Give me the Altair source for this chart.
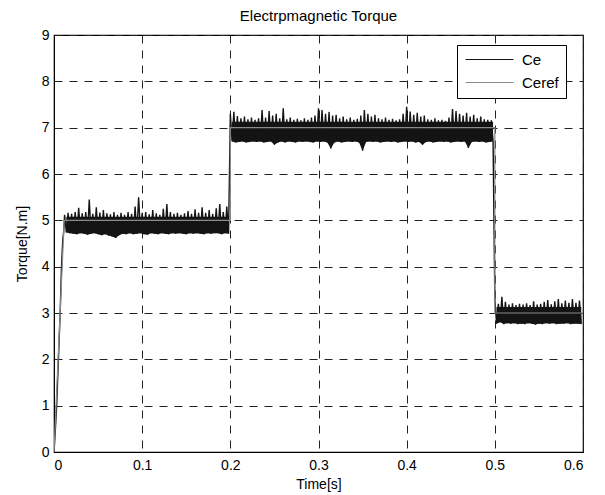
import altair as alt
import pandas as pd

# ---- data ----
RAMP_T = [0.0, 0.001, 0.003, 0.005, 0.007, 0.0085, 0.010, 0.011]
RAMP_V = [0.0, 0.3, 1.0, 2.0, 3.0, 4.0, 4.6, 4.75]

STEP = 0.002  # spacing between successive peak/trough samples

SEG1_START = 0.012
SEG1_UP = [5.12, 5.16, 5.14, 5.18, 5.27, 5.15, 5.18, 5.45, 5.14, 5.28,
           5.17, 5.22, 5.15, 5.13, 5.18, 5.12, 5.16, 5.12, 5.18, 5.14,
           5.30, 5.50, 5.16, 5.18, 5.13, 5.22, 5.15, 5.12, 5.25, 5.35,
           5.18, 5.14, 5.16, 5.12, 5.15, 5.20, 5.14, 5.24, 5.16, 5.28,
           5.16, 5.22, 5.14, 5.26, 5.35, 5.18, 5.30]
SEG1_LO = [4.74, 4.72, 4.71, 4.70, 4.72, 4.71, 4.69, 4.71, 4.72, 4.70,
           4.68, 4.70, 4.67, 4.65, 4.62, 4.68, 4.71, 4.70, 4.72, 4.70,
           4.71, 4.72, 4.70, 4.69, 4.72, 4.71, 4.70, 4.72, 4.71, 4.70,
           4.72, 4.71, 4.72, 4.71, 4.70, 4.72, 4.71, 4.72, 4.71, 4.70,
           4.72, 4.71, 4.72, 4.72, 4.70, 4.72, 4.71]

SEG2_START = 0.200
SEG2_UP = [7.30, 7.34, 7.25, 7.20, 7.24, 7.18, 7.22, 7.17, 7.20, 7.38,
           7.22, 7.36, 7.26, 7.30, 7.20, 7.42, 7.18, 7.22, 7.17, 7.19,
           7.16, 7.20, 7.17, 7.22, 7.26, 7.42, 7.38, 7.30, 7.34, 7.26,
           7.28, 7.20, 7.24, 7.18, 7.22, 7.17, 7.19, 7.26, 7.38, 7.30,
           7.24, 7.28, 7.20, 7.18, 7.22, 7.17, 7.19, 7.16, 7.18, 7.30,
           7.45, 7.35, 7.28, 7.32, 7.24, 7.26, 7.18, 7.17, 7.20, 7.16,
           7.17, 7.15, 7.22, 7.40, 7.36, 7.30, 7.26, 7.32, 7.24, 7.28,
           7.20, 7.24, 7.18, 7.17, 7.16]
SEG2_LO = [6.70, 6.68, 6.69, 6.70, 6.68, 6.69, 6.70, 6.69, 6.70, 6.68,
           6.69, 6.70, 6.63, 6.68, 6.70, 6.68, 6.70, 6.69, 6.68, 6.70,
           6.69, 6.70, 6.69, 6.68, 6.70, 6.69, 6.70, 6.68, 6.55, 6.68,
           6.70, 6.68, 6.69, 6.70, 6.69, 6.70, 6.68, 6.50, 6.69, 6.70,
           6.69, 6.70, 6.68, 6.69, 6.70, 6.69, 6.70, 6.68, 6.69, 6.70,
           6.69, 6.70, 6.68, 6.69, 6.63, 6.69, 6.70, 6.68, 6.69, 6.70,
           6.69, 6.70, 6.68, 6.69, 6.70, 6.69, 6.70, 6.56, 6.69, 6.70,
           6.69, 6.70, 6.68, 6.69, 6.70]

SEG3_START = 0.500
SEG3_UP = [3.30, 3.20, 3.35, 3.24, 3.18, 3.21, 3.17, 3.20, 3.18, 3.21,
           3.17, 3.25, 3.18, 3.20, 3.24, 3.28, 3.19, 3.25, 3.30, 3.21,
           3.27, 3.22, 3.30, 3.22, 3.27]
SEG3_LO = [2.77, 2.80, 2.76, 2.78, 2.77, 2.78, 2.76, 2.77, 2.76, 2.78,
           2.77, 2.75, 2.77, 2.76, 2.78, 2.77, 2.78, 2.76, 2.77, 2.77,
           2.78, 2.76, 2.77, 2.77, 2.76]

# top of the solid (dense) part of the ripple band in each segment
BAND_TOP = [5.08, 7.13, 3.13]

CEREF_T = [0.0, 0.011, 0.0115, 0.2, 0.2, 0.5, 0.5, 0.6]
CEREF_V = [0.0, 4.75, 5.0, 5.0, 7.0, 7.0, 3.0, 3.0]

X_TICKS = [0, 0.1, 0.2, 0.3, 0.4, 0.5, 0.6]
Y_TICKS = [0, 1, 2, 3, 4, 5, 6, 7, 8, 9]

# ---- build tables ----
ce_t = list(RAMP_T)
ce_v = list(RAMP_V)
band_t, band_lo, band_up, band_seg = [], [], [], []
for s, (start, up, lo) in enumerate([(SEG1_START, SEG1_UP, SEG1_LO),
                                     (SEG2_START, SEG2_UP, SEG2_LO),
                                     (SEG3_START, SEG3_UP, SEG3_LO)]):
    for i, (u, l) in enumerate(zip(up, lo)):
        t_u = round(start + (2 * i) * STEP, 6)
        t_l = round(start + (2 * i + 1) * STEP, 6)
        ce_t += [t_u, t_l]
        ce_v += [u, l]
        band_t.append(t_l)
        band_lo.append(l)
        band_up.append(BAND_TOP[s])
        band_seg.append(s)

ce = pd.DataFrame({"t": ce_t, "v": ce_v, "series": "Ce", "o": range(len(ce_t))})
ceref = pd.DataFrame({"t": CEREF_T, "v": CEREF_V, "series": "Ceref",
                      "o": range(len(CEREF_T))})
band = pd.DataFrame({"t": band_t, "lo": band_lo, "up": band_up, "seg": band_seg})

FONT = "Liberation Sans"
CE_COLOR = "#141414"

color = alt.Color(
    "series:N",
    scale=alt.Scale(domain=["Ce", "Ceref"], range=[CE_COLOR, "#8a8a8a"]),
    legend=alt.Legend(
        title=None,
        orient="none",
        legendX=403,
        legendY=10,
        symbolType="M-1,0H7",
        symbolSize=144,
        symbolStrokeWidth=1.2,
        labelFont=FONT,
        labelFontSize=15,
        labelColor="black",
        labelOffset=43,
        padding=7,
        rowPadding=7,
        strokeColor="black",
        fillColor="white",
        cornerRadius=0,
    ),
)

x = alt.X(
    "t:Q",
    scale=alt.Scale(domain=[0, 0.6], nice=False, zero=False),
    axis=alt.Axis(
        title="Time[s]",
        values=X_TICKS,
        format="~g",
        grid=True,
        gridDash=[8, 7],
        gridColor="#222222",
        gridWidth=1,
        domainColor="black",
        ticks=False,
        labelPadding=6,
        labelFont=FONT,
        labelFontSize=14,
        labelColor="black",
        titleFont=FONT,
        titleFontSize=14,
        titleFontWeight="normal",
        titleColor="black",
        titlePadding=5,
    ),
)
y_axis = alt.Axis(
    title="Torque[N.m]",
    values=Y_TICKS,
    grid=True,
    gridDash=[8, 7],
    gridColor="#222222",
    gridWidth=1,
    domainColor="black",
    ticks=False,
    labelPadding=5,
    labelFont=FONT,
    labelFontSize=14,
    labelColor="black",
    titleFont=FONT,
    titleFontSize=14,
    titleFontWeight="normal",
    titleColor="black",
    titlePadding=12,
)
y_scale = alt.Scale(domain=[0, 9], nice=False)
y = alt.Y("v:Q", scale=y_scale, axis=y_axis)

band_area = alt.Chart(band).mark_area(color=CE_COLOR, clip=True).encode(
    x=x,
    y=alt.Y("lo:Q", scale=y_scale, axis=y_axis),
    y2="up:Q",
    detail="seg:N",
)
ce_line = alt.Chart(ce).mark_line(strokeWidth=1.4, strokeJoin="bevel", clip=True).encode(
    x=x, y=y, color=color, order="o:Q"
)
ref_line = alt.Chart(ceref).mark_line(strokeWidth=1.2, clip=True).encode(
    x=x, y=y, color=color, order="o:Q"
)

chart = (
    alt.layer(band_area, ce_line, ref_line)
    .properties(
        width=529,
        height=417,
        title=alt.Title(
            "Electrpmagnetic Torque",
            font=FONT,
            fontSize=15,
            fontWeight="normal",
            color="black",
            offset=4,
        ),
        autosize=alt.AutoSizeParams(type="none"),
        padding={"left": 54, "top": 35, "right": 22, "bottom": 43},
        background="white",
    )
    .configure_view(stroke="black", strokeWidth=1.2)
)

chart.save("out.html", embed_options={"renderer": "svg", "actions": False})
